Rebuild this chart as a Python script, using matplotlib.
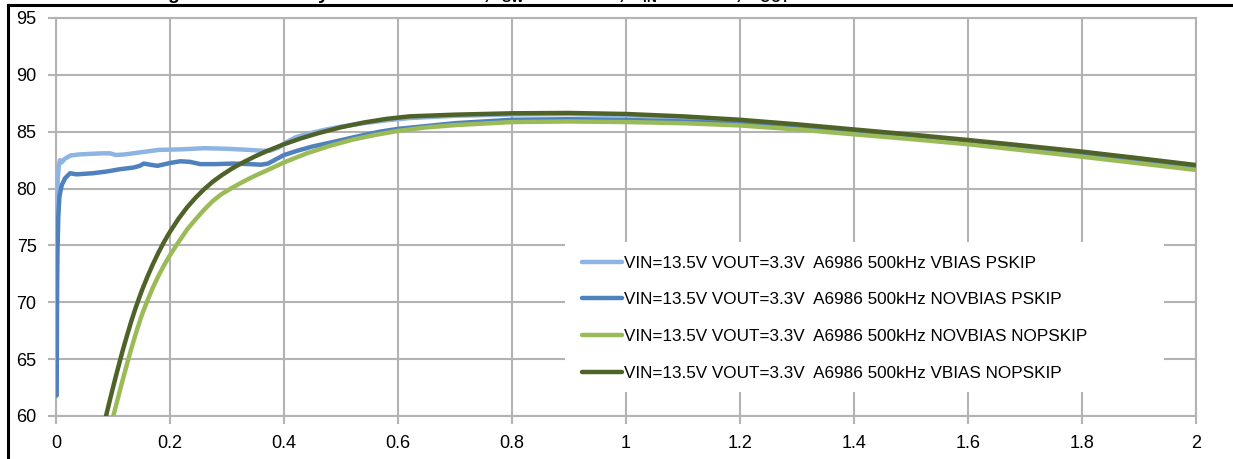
import matplotlib
matplotlib.use("Agg")
import matplotlib.pyplot as plt
from matplotlib.lines import Line2D
from matplotlib.patches import Rectangle

# ---------------- data ----------------
labels = [
    "VIN=13.5V VOUT=3.3V  A6986 500kHz VBIAS PSKIP",
    "VIN=13.5V VOUT=3.3V  A6986 500kHz NOVBIAS PSKIP",
    "VIN=13.5V VOUT=3.3V  A6986 500kHz NOVBIAS NOPSKIP",
    "VIN=13.5V VOUT=3.3V  A6986 500kHz VBIAS NOPSKIP",
]
colors = ["#8DB4E2", "#4F81BD", "#9BBB59", "#4F6228"]

x_vbias_pskip = [0.001, 0.002, 0.003, 0.005, 0.007, 0.010, 0.015, 0.025, 0.04, 0.06,
                 0.08, 0.095, 0.105, 0.12, 0.15, 0.18, 0.22, 0.26, 0.30, 0.34,
                 0.36, 0.375, 0.39, 0.405, 0.42, 0.44, 0.47, 0.50, 0.54, 0.58,
                 0.62, 0.7, 0.8, 0.9, 1.0, 1.1, 1.2, 1.3, 1.4, 1.5,
                 1.6, 1.7, 1.8, 1.9, 2.0]
y_vbias_pskip = [75.5, 78.5, 80.8, 82.0, 82.5, 82.3, 82.6, 82.9, 83.0, 83.05,
                 83.1, 83.1, 82.95, 83.0, 83.2, 83.4, 83.45, 83.55, 83.5, 83.4,
                 83.33, 83.32, 83.6, 84.1, 84.5, 84.8, 85.15, 85.45, 85.75, 86.0,
                 86.2, 86.4, 86.52, 86.55, 86.46, 86.25, 85.95, 85.55, 85.1, 84.65,
                 84.17, 83.67, 83.15, 82.57, 81.97]

x_novbias_pskip = [0.0012, 0.0018, 0.0025, 0.004, 0.006, 0.01, 0.0158, 0.0246, 0.036, 0.05,
                   0.065, 0.089, 0.112, 0.136, 0.147, 0.154, 0.165, 0.178, 0.2, 0.218,
                   0.235, 0.253, 0.28, 0.311, 0.34, 0.36, 0.372, 0.385, 0.4, 0.425,
                   0.45, 0.4865, 0.53, 0.568, 0.6, 0.7, 0.8, 0.9, 1.0, 1.1,
                   1.2, 1.3, 1.4, 1.5, 1.6, 1.7, 1.8, 1.9, 2.0]
y_novbias_pskip = [61.8, 70.0, 74.0, 77.5, 79.3, 80.3, 80.9, 81.35, 81.25, 81.3,
                   81.35, 81.5, 81.7, 81.85, 82.0, 82.2, 82.1, 82.0, 82.25, 82.4,
                   82.35, 82.15, 82.15, 82.2, 82.15, 82.1, 82.2, 82.55, 82.95, 83.35,
                   83.7, 84.1, 84.6, 85.0, 85.25, 85.75, 86.05, 86.1, 86.05, 85.9,
                   85.7, 85.35, 84.95, 84.5, 84.05, 83.5, 82.95, 82.4, 81.8]

x_novbias_nopskip = [0.1006, 0.108, 0.115, 0.122, 0.13, 0.14, 0.15, 0.16, 0.17, 0.18,
                     0.19, 0.2, 0.215, 0.23, 0.245, 0.26, 0.275, 0.29, 0.31, 0.33,
                     0.35, 0.37, 0.4, 0.44, 0.48, 0.52, 0.56, 0.6, 0.65, 0.7,
                     0.8, 0.9, 1.0, 1.1, 1.2, 1.3, 1.4, 1.5, 1.6, 1.7,
                     1.8, 1.9, 2.0]
y_novbias_nopskip = [60.0, 61.45, 62.8, 64.1, 65.55, 67.25, 68.8, 70.1, 71.3, 72.35,
                     73.3, 74.15, 75.3, 76.4, 77.3, 78.15, 78.9, 79.5, 80.1, 80.65,
                     81.15, 81.6, 82.3, 83.1, 83.75, 84.3, 84.72, 85.07, 85.38, 85.58,
                     85.85, 85.9, 85.85, 85.75, 85.55, 85.2, 84.77, 84.35, 83.9, 83.35,
                     82.8, 82.22, 81.64]

x_vbias_nopskip = [0.0877, 0.095, 0.1025, 0.11, 0.1175, 0.125, 0.1325, 0.14, 0.15, 0.16,
                   0.17, 0.18, 0.19, 0.2, 0.215, 0.23, 0.245, 0.26, 0.275, 0.29,
                   0.31, 0.33, 0.35, 0.37, 0.4, 0.43, 0.46, 0.5, 0.54, 0.58,
                   0.62, 0.7, 0.8, 0.9, 1.0, 1.1, 1.2, 1.3, 1.4, 1.5,
                   1.6, 1.7, 1.8, 1.9, 2.0]
y_vbias_nopskip = [60.0, 61.5, 63.0, 64.45, 65.85, 67.15, 68.4, 69.55, 70.95, 72.2,
                   73.35, 74.4, 75.35, 76.2, 77.35, 78.35, 79.2, 79.95, 80.6, 81.15,
                   81.8, 82.35, 82.85, 83.3, 83.9, 84.42, 84.87, 85.39, 85.81, 86.13,
                   86.35, 86.5, 86.62, 86.65, 86.56, 86.35, 86.05, 85.65, 85.2, 84.75,
                   84.27, 83.77, 83.25, 82.67, 82.07]

x_ticks = [0, 0.2, 0.4, 0.6, 0.8, 1.0, 1.2, 1.4, 1.6, 1.8, 2.0]
x_tick_labels = ["0", "0.2", "0.4", "0.6", "0.8", "1", "1.2", "1.4", "1.6", "1.8", "2"]
y_ticks = [60, 65, 70, 75, 80, 85, 90, 95]

title_text = ("Figure 8. Efficiency vs Load Current, f$_{\\mathregular{SW}}$ = 500 kHz, "
              "V$_{\\mathregular{IN}}$ = 13.5 V, V$_{\\mathregular{OUT}}$ = 3.3 V")

# ---------------- figure ----------------
W, H = 1233, 459
plt.rcParams["font.family"] = ["Liberation Sans", "DejaVu Sans"]
fig = plt.figure(figsize=(W / 100, H / 100), dpi=100)
ax = fig.add_axes([56 / W, 1 - 416 / H, (1196 - 56) / W, (416 - 18) / H])

grid_c = "#B3B3B3"
ax.set_axisbelow(True)
ax.grid(True, color=grid_c, linewidth=1.5)

series = [
    (x_vbias_pskip, y_vbias_pskip),
    (x_novbias_pskip, y_novbias_pskip),
    (x_novbias_nopskip, y_novbias_nopskip),
    (x_vbias_nopskip, y_vbias_nopskip),
]
handles = []
for (xs, ys), c, lab in zip(series, colors, labels):
    h, = ax.plot(xs, ys, color=c, lw=3.2, label=lab, zorder=3,
                 solid_capstyle="round", solid_joinstyle="round")
    handles.append(h)

ax.set_xlim(0, 2)
ax.set_ylim(60, 95)
ax.set_xticks(x_ticks)
ax.set_xticklabels(x_tick_labels)
ax.set_yticks(y_ticks)
for s in ax.spines.values():
    s.set_color(grid_c)
    s.set_linewidth(1.5)
ax.tick_params(axis="both", colors=grid_c, length=6, width=1.5, labelcolor="black",
               labelsize=13)
ax.tick_params(axis="x", pad=8)
ax.tick_params(axis="y", pad=8)

# legend background (Excel-style white box, no border)
ax.add_patch(Rectangle(((565 - 56) / 1140, (416 - 392) / 398),
                       (1164 - 565) / 1140, (392 - 242) / 398,
                       transform=ax.transAxes, facecolor="white", edgecolor="none",
                       zorder=1))
leg = ax.legend(handles=handles, loc="upper left",
                bbox_to_anchor=((582 - 56) / 1140, (416 - 255.5) / 398),
                frameon=False, fontsize=12.3, handlelength=2.35, handletextpad=0.1,
                labelspacing=1.27, borderpad=0, borderaxespad=0)
leg.set_zorder(4)

# screenshot frame lines
fig.add_artist(Line2D([8 / W, 8 / W], [0, 1 - 5 / H], color="black", lw=2.2,
                      transform=fig.transFigure))
fig.add_artist(Line2D([8 / W, 1], [1 - 5 / H, 1 - 5 / H], color="black", lw=2.2,
                      transform=fig.transFigure))

# cut-off title (only its lowest pixels are visible, as in the reference)
fig.text(150 / W, 1 + 1 / H, title_text, ha="left", va="baseline",
         fontsize=14, fontweight="bold")

fig.savefig("out.png", dpi=100)
